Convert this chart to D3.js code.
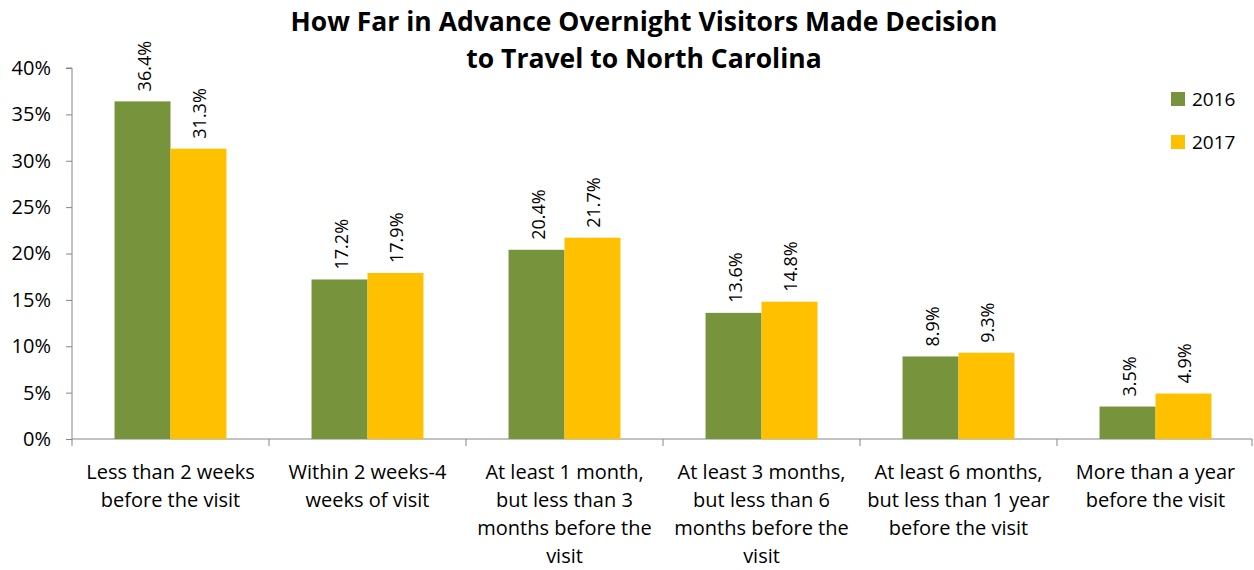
<!DOCTYPE html>
<html>
<head>
<meta charset="utf-8">
<script src="https://cdn.jsdelivr.net/npm/d3@7"></script>
<style>
  body { margin: 0; background: #fff; }
  text { font-family: "Open Sans", Lato, sans-serif; fill: #000; }
</style>
</head>
<body>
<div id="chart"></div>
<script>
// data
const categories = [
  ["Less than 2 weeks", "before the visit"],
  ["Within 2 weeks-4", "weeks of visit"],
  ["At least 1 month,", "but less than 3", "months before the", "visit"],
  ["At least 3 months,", "but less than 6", "months before the", "visit"],
  ["At least 6 months,", "but less than 1 year", "before the visit"],
  ["More than a year", "before the visit"]
];
const series = ["2016", "2017"];
const values2016 = [36.4, 17.2, 20.4, 13.6, 8.9, 3.5];
const values2017 = [31.3, 17.9, 21.7, 14.8, 9.3, 4.9];
const yTicks = [0, 5, 10, 15, 20, 25, 30, 35, 40];
const colors = ["#77933C", "#FFC000"];

const WIDTH = 1254, HEIGHT = 570;
const margin = {left: 72, right: 0, top: 68, bottom: 131};

const svg = d3.select("#chart").append("svg")
  .attr("width", WIDTH).attr("height", HEIGHT);

const x = d3.scaleBand()
  .domain(d3.range(categories.length))
  .range([margin.left, WIDTH - margin.right])
  .paddingInner(0).paddingOuter(0);

const xInner = d3.scaleBand()
  .domain(series)
  .range([0, x.bandwidth()])
  .paddingInner(0).paddingOuter(0.76);

const y = d3.scaleLinear().domain([0, 40]).range([HEIGHT - margin.bottom, margin.top]);

// title
svg.append("text")
  .attr("x", 644).attr("y", 31)
  .attr("text-anchor", "middle")
  .style("font-size", "26.5px").style("font-weight", "bold")
  .text("How Far in Advance Overnight Visitors Made Decision");
svg.append("text")
  .attr("x", 644).attr("y", 68)
  .attr("text-anchor", "middle")
  .style("font-size", "26.5px").style("font-weight", "bold")
  .text("to Travel to North Carolina");

// y axis
const yAxis = svg.append("g")
  .attr("transform", "translate(" + margin.left + ",0)")
  .call(d3.axisLeft(y).tickValues(yTicks).tickSize(6).tickPadding(15).tickFormat(d => d + "%"));
yAxis.selectAll("line, path").attr("stroke", "#868686");
yAxis.select(".domain").attr("d", "M-6," + y(40) + "H0V" + y(0));
yAxis.selectAll("text").style("font-size", "20px").style("font-family", "'Open Sans', sans-serif");

// x axis
const xAxisG = svg.append("g").attr("transform", "translate(0," + y(0) + ")");
xAxisG.append("line")
  .attr("x1", margin.left).attr("x2", WIDTH - 2)
  .attr("stroke", "#868686");
xAxisG.selectAll(".tick")
  .data(d3.range(categories.length + 1))
  .join("line")
  .attr("x1", d => d < categories.length ? x(d) : WIDTH - 2)
  .attr("x2", d => d < categories.length ? x(d) : WIDTH - 2)
  .attr("y1", 0).attr("y2", 7)
  .attr("stroke", "#868686");

// category labels
categories.forEach((lines, i) => {
  const t = svg.append("text")
    .attr("x", x(i) + x.bandwidth() / 2)
    .attr("y", y(0) + 40)
    .attr("text-anchor", "middle")
    .style("font-size", "20px");
  lines.forEach((ln, j) => {
    t.append("tspan")
      .attr("x", x(i) + x.bandwidth() / 2)
      .attr("dy", j === 0 ? 0 : 28)
      .text(ln);
  });
});

// bars
const allValues = [values2016, values2017];
series.forEach((s, si) => {
  const g = svg.append("g");
  g.selectAll("rect")
    .data(allValues[si])
    .join("rect")
    .attr("x", (d, i) => x(i) + xInner(s))
    .attr("y", d => y(d))
    .attr("width", xInner.bandwidth())
    .attr("height", d => y(0) - y(d))
    .attr("fill", colors[si]);
  g.selectAll("text")
    .data(allValues[si])
    .join("text")
    .attr("transform", (d, i) => "translate(" + (x(i) + xInner(s) + xInner.bandwidth() / 2 + 8) + "," + (y(d) - 10) + ") rotate(-90)")
    .attr("text-anchor", "start")
    .style("font-size", "18px")
    .text(d => d.toFixed(1) + "%");
});

// legend
series.forEach((s, si) => {
  const ly = 99 + si * 43;
  svg.append("rect")
    .attr("x", 1171).attr("y", ly - 7)
    .attr("width", 14).attr("height", 14)
    .attr("fill", colors[si]);
  svg.append("text")
    .attr("x", 1192).attr("y", ly + 7)
    .style("font-size", "19px")
    .text(s);
});
</script>
</body>
</html>
